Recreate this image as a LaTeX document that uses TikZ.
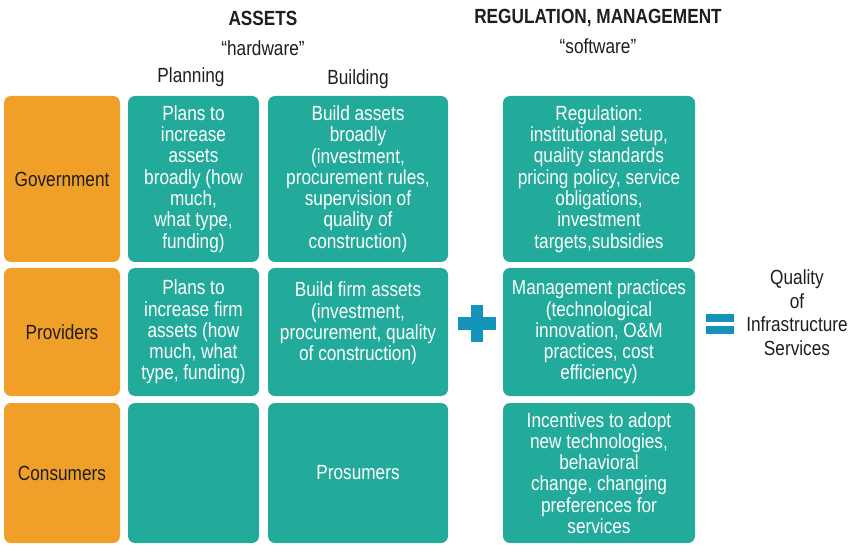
\documentclass[tikz,border=0pt]{standalone}
\usepackage{fontspec}
\setmainfont{Liberation Sans}[FakeStretch=0.84]
\definecolor{actor}{RGB}{240,160,40}
\definecolor{cell}{RGB}{34,170,154}
\definecolor{sign}{RGB}{20,148,184}
\definecolor{ink}{RGB}{30,30,30}
\begin{document}
\begin{tikzpicture}[x=1pt,y=-1pt,
  every node/.style={inner sep=0pt, outer sep=0pt},
  body/.style={font=\fontsize{20.5}{21.3}\selectfont, align=center},
  actorbox/.style={body, fill=actor, text=ink, rounded corners=7pt},
  cellbox/.style={body, fill=cell, text=white, rounded corners=7pt},
  head/.style={font=\fontsize{20.5}{22}\selectfont\bfseries, text=ink},
  sub/.style={font=\fontsize{20.5}{22}\selectfont, text=ink}]
\useasboundingbox (0,0) rectangle (854,545);

% column headings
\node[head] (assets) at (263,18) {ASSETS};
\node[sub] (hw) at (263,48) {``hardware''};
\node[sub] (plan) at (191,77) {Planning};
\node[sub] (build) at (358,79) {Building};
\node[head] (reg) at (598,18) {REGULATION, MANAGEMENT};
\node[sub] (sw) at (598,46) {``software''};

% actors
\node[actorbox, minimum width=116, minimum height=166] (gov) at (62,179) {Government};
\node[actorbox, minimum width=116, minimum height=128] (prov) at (62,332) {Providers};
\node[actorbox, minimum width=116, minimum height=140] (cons) at (62,473) {Consumers};

% planning column
\node[cellbox, minimum width=131, minimum height=166] (govplan) at (193.5,179)
  {Plans to\\increase\\assets\\broadly (how\\much,\\what type,\\funding)};
\node[cellbox, minimum width=131, minimum height=128] (provplan) at (193.5,332)
  {Plans to\\increase firm\\assets (how\\much, what\\type, funding)};
\node[cellbox, minimum width=131, minimum height=140] (consplan) at (193.5,473) {};

% building column
\node[cellbox, minimum width=180, minimum height=166] (govbuild) at (358,179)
  {Build assets\\broadly\\(investment,\\procurement rules,\\supervision of\\quality of\\construction)};
\node[cellbox, minimum width=180, minimum height=128] (provbuild) at (358,332)
  {Build firm assets\\(investment,\\procurement, quality\\of construction)\\\mbox{}};
\node[cellbox, minimum width=180, minimum height=140] (consbuild) at (358,473) {Prosumers};

% regulation / management column
\node[cellbox, minimum width=192, minimum height=166] (govreg) at (599,179)
  {Regulation:\\institutional setup,\\quality standards\\pricing policy, service\\obligations,\\investment\\targets,subsidies};
\node[cellbox, minimum width=192, minimum height=128] (provreg) at (599,332)
  {Management practices\\(technological\\innovation, O\&M\\practices, cost\\efficiency)};
\node[cellbox, minimum width=192, minimum height=140] (consreg) at (599,473)
  {Incentives to adopt\\new technologies,\\behavioral\\change, changing\\preferences for\\services};

% plus sign
\node[fill=sign, minimum width=38, minimum height=13] (plush) at (477,323.5) {};
\node[fill=sign, minimum width=12, minimum height=37] (plusv) at (477,323.5) {};

% equals sign
\node[fill=sign, minimum width=28, minimum height=8] (eqtop) at (720,318) {};
\node[fill=sign, minimum width=28, minimum height=8] (eqbot) at (720,330) {};

% result
\node[body, text=ink, font=\fontsize{20.5}{23.5}\selectfont] (quality) at (797,312.5)
  {Quality\\of\\Infrastructure\\Services};
\end{tikzpicture}
\end{document}
